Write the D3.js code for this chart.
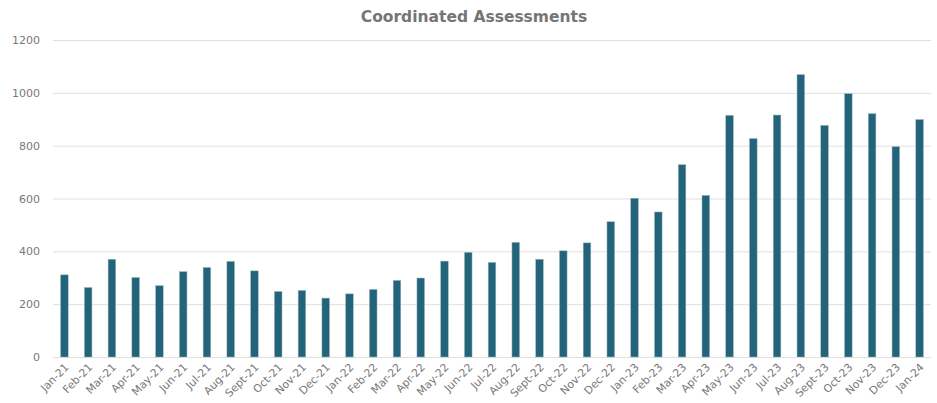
<!DOCTYPE html>
<html>
<head>
<meta charset="utf-8">
<script src="https://cdn.jsdelivr.net/npm/d3@7"></script>
<style>
  body { margin: 0; background: #fff; }
  svg text { font-family: "DejaVu Sans", "Liberation Sans", sans-serif; }
</style>
</head>
<body>
<div id="chart"></div>
<script>
// Monthly counts
const months = ["Jan-21", "Feb-21", "Mar-21", "Apr-21", "May-21", "Jun-21", "Jul-21", "Aug-21", "Sept-21",
  "Oct-21", "Nov-21", "Dec-21", "Jan-22", "Feb-22", "Mar-22", "Apr-22", "May-22", "Jun-22", "Jul-22",
  "Aug-22", "Sept-22", "Oct-22", "Nov-22", "Dec-22", "Jan-23", "Feb-23", "Mar-23", "Apr-23", "May-23",
  "Jun-23", "Jul-23", "Aug-23", "Sept-23", "Oct-23", "Nov-23", "Dec-23", "Jan-24"];
const assessments = [311, 263, 370, 301, 270, 323, 339, 362, 326,
  248, 252, 223, 239, 256, 290, 299, 363, 396, 358,
  434, 370, 402, 432, 512, 601, 549, 728, 612, 915,
  827, 916, 1069, 877, 997, 921, 796, 899];
const yTicks = [0, 200, 400, 600, 800, 1000, 1200];

const W = 937, H = 403;
const margin = { top: 40, right: 6, bottom: 46, left: 53 };
const width = W - margin.left - margin.right;
const height = H - margin.top - margin.bottom;

const svg = d3.select("#chart").append("svg")
    .attr("width", W)
    .attr("height", H);

const g = svg.append("g")
    .attr("transform", "translate(" + margin.left + "," + margin.top + ")");

const x = d3.scaleBand()
    .domain(months)
    .range([0, width])
    .paddingInner(0.68)
    .paddingOuter(0.32);

const y = d3.scaleLinear()
    .domain([0, 1200])
    .range([height, 0]);

// gridlines + y labels
const yAxis = g.append("g")
    .call(d3.axisLeft(y).tickValues(yTicks).tickFormat(d3.format("d")).tickSize(-width).tickPadding(13));
yAxis.select(".domain").remove();
yAxis.selectAll(".tick line")
    .attr("stroke", "#e0e0e0")
    .attr("stroke-width", 1);
yAxis.selectAll(".tick text")
    .attr("fill", "#787878")
    .style("font-size", "11px");

// bars
g.selectAll(".bar")
    .data(assessments)
    .enter().append("rect")
    .attr("class", "bar")
    .attr("x", (d, i) => x(months[i]))
    .attr("y", d => y(d))
    .attr("width", x.bandwidth())
    .attr("height", d => height - y(d))
    .attr("fill", "#23647a")
    .attr("stroke", "#9ab8c2")
    .attr("stroke-width", 0.5);

// x axis labels, rotated
const xAxis = g.append("g")
    .attr("transform", "translate(0," + height + ")")
    .call(d3.axisBottom(x).tickSize(0).tickPadding(0));
xAxis.select(".domain").remove();
xAxis.selectAll(".tick text")
    .attr("fill", "#787878")
    .style("font-size", "10.8px")
    .attr("text-anchor", "end")
    .attr("dy", 0)
    .attr("transform", "translate(5,11) rotate(-45)");

// title
svg.append("text")
    .attr("x", 474)
    .attr("y", 22)
    .attr("text-anchor", "middle")
    .attr("fill", "#757575")
    .style("font-size", "15.5px")
    .style("font-weight", "bold")
    .text("Coordinated Assessments");
</script>
</body>
</html>
